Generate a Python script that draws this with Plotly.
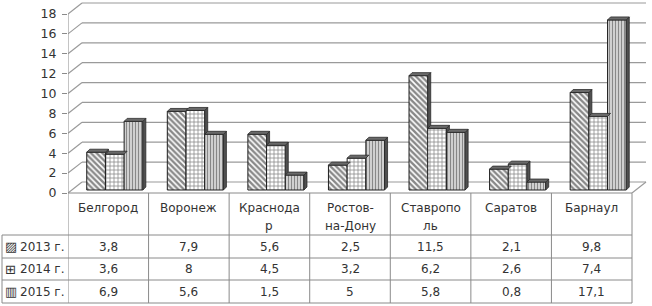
import plotly.graph_objects as go

# ---------------- data ----------------
categories = ["Белгород", "Воронеж", "Краснодар", "Ростов-на-Дону", "Ставрополь", "Саратов", "Барнаул"]
header_lines = [["Белгород"], ["Воронеж"], ["Краснода", "р"], ["Ростов-", "на-Дону"],
                ["Ставропо", "ль"], ["Саратов"], ["Барнаул"]]
series_names = ["2013 г.", "2014 г.", "2015 г."]
series_keys = ["▨", "⊞", "▥"]
values_2013 = [3.8, 7.9, 5.6, 2.5, 11.5, 2.1, 9.8]
values_2014 = [3.6, 8, 4.5, 3.2, 6.2, 2.6, 7.4]
values_2015 = [6.9, 5.6, 1.5, 5, 5.8, 0.8, 17.1]
y_ticks = [0, 2, 4, 6, 8, 10, 12, 14, 16, 18]

series_values = [values_2013, values_2014, values_2015]
patterns = [dict(shape="\\", size=4, solidity=0.6),
            dict(shape="+", size=4, solidity=0.35),
            dict(shape="|", size=3, solidity=0.6)]

# ---------------- geometry ----------------
W, H = 652, 306
ML, MR, MT, MB = 68, 0, 0, 113
PW, PH = W - ML - MR, H - MT - MB
n = len(categories)
xpx = (n * 1.0) / (632 - ML)          # data units per pixel (x)
ymax_tick = max(y_ticks)
ypx = ymax_tick / (193 - 14)          # data units per pixel (y)
x_range = [-0.5, -0.5 + PW * xpx]
y_range = [0, PH * ypx]

wall_dx, wall_dy = 14 * xpx, 11 * ypx   # depth of walls
bar_w = 18.7 * xpx
bar_shift = 6.5 * xpx
bar_dx, bar_dy = 3 * xpx, 3 * ypx
bar_lift = 3 * ypx

def px_x(p):   # pixel -> paper x
    return (p - ML) / PW

def px_y(p):   # pixel -> paper y
    return (MT + PH - p) / PH

TXT = "#333333"
GRID = "#9a9a9a"
TBL = "#8a8a8a"
FONT = "DejaVu Sans"

fig = go.Figure()

# ---------------- bars ----------------
for k, (name, vals, pat) in enumerate(zip(series_names, series_values, patterns)):
    off = bar_shift + (k - 1.5) * bar_w
    fig.add_trace(go.Bar(
        x=list(range(n)), y=vals, name=name, width=bar_w, offset=off,
        xaxis="x", yaxis="y2",
        marker=dict(color="white",
                    line=dict(color="#1e1e1e", width=1),
                    pattern=dict(fgcolor="#111111", bgcolor="#ffffff", **pat)),
        showlegend=False, hoverinfo="x+y"))

# 3D side and top faces, derived from the values
for k, vals in enumerate(series_values):
    off = bar_shift + (k - 1.5) * bar_w
    sx, sy, tx, ty = [], [], [], []
    for i, v in enumerate(vals):
        xl = i + off
        xr = xl + bar_w
        nxt = series_values[k + 1][i] if k < 2 else 0
        if nxt < v:
            sx += [xr, xr + bar_dx, xr + bar_dx, xr, xr, None]
            sy += [nxt, nxt + bar_dy, v + bar_dy, v, nxt, None]
        tx += [xl, xl + bar_dx, xr + bar_dx, xr, xl, None]
        ty += [v, v + bar_dy, v + bar_dy, v, v, None]
    fig.add_trace(go.Scatter(x=sx, y=sy, xaxis="x", yaxis="y2", mode="lines",
                             fill="toself", fillcolor="#505050",
                             line=dict(color="#2a2a2a", width=0.8),
                             showlegend=False, hoverinfo="skip"))
    fig.add_trace(go.Scatter(x=tx, y=ty, xaxis="x", yaxis="y2", mode="lines",
                             fill="toself", fillcolor="#6a6a6a",
                             line=dict(color="#2a2a2a", width=0.8),
                             showlegend=False, hoverinfo="skip"))

shapes = []
# back-wall gridlines with left-wall diagonals
for v in y_ticks:
    shapes.append(dict(type="line", xref="x", yref="y", x0=-0.5, y0=v,
                       x1=-0.5 + wall_dx, y1=v + wall_dy,
                       line=dict(color=GRID, width=1.2), layer="below"))
    shapes.append(dict(type="line", xref="x", yref="y", x0=-0.5 + wall_dx, y0=v + wall_dy,
                       x1=n - 0.5 + wall_dx, y1=v + wall_dy,
                       line=dict(color=GRID, width=1.2), layer="below"))
# floor right edge
shapes.append(dict(type="line", xref="x", yref="y", x0=n - 0.5, y0=0,
                   x1=n - 0.5 + wall_dx, y1=wall_dy,
                   line=dict(color=GRID, width=1.2), layer="below"))
# value axis line
shapes.append(dict(type="line", xref="x", yref="y", x0=-0.5, y0=0, x1=-0.5, y1=ymax_tick,
                   line=dict(color="#8a8a8a", width=1)))

# ---------------- data table ----------------
row_lines_px = [193, 235, 258, 280, 303]
shapes.append(dict(type="line", xref="x", yref="paper", x0=-0.5, x1=n - 0.5,
                   y0=px_y(193), y1=px_y(193), line=dict(color=TBL, width=1)))
for p in row_lines_px[1:]:
    shapes.append(dict(type="line", xref="paper", yref="paper", x0=px_x(2),
                       x1=px_x(632), y0=px_y(p), y1=px_y(p),
                       line=dict(color=TBL, width=1)))
for i in range(n + 1):
    shapes.append(dict(type="line", xref="x", yref="paper", x0=i - 0.5, x1=i - 0.5,
                       y0=px_y(193), y1=px_y(303), line=dict(color=TBL, width=1)))
shapes.append(dict(type="line", xref="paper", yref="paper", x0=px_x(2), x1=px_x(2),
                   y0=px_y(235), y1=px_y(303), line=dict(color=TBL, width=1)))

annotations = []
for i, lines in enumerate(header_lines):
    for j, t in enumerate(lines):
        annotations.append(dict(x=i, xref="x", y=px_y(208 + 18 * j), yref="paper",
                                text=t, showarrow=False, xanchor="center", yanchor="middle",
                                font=dict(family=FONT, size=12, color=TXT)))
row_centers = [(row_lines_px[r + 1] + row_lines_px[r + 2]) / 2 for r in range(3)]
for r, (name, key, vals) in enumerate(zip(series_names, series_keys, series_values)):
    yc = px_y(row_centers[r])
    annotations.append(dict(x=px_x(3), xref="paper", y=yc, yref="paper",
                            text=key, showarrow=False, xanchor="left", yanchor="middle",
                            font=dict(family=FONT, size=13, color="#333")))
    annotations.append(dict(x=px_x(66), xref="paper", y=yc, yref="paper",
                            text=name, showarrow=False, xanchor="right", yanchor="middle",
                            font=dict(family=FONT, size=12, color=TXT)))
    for i, v in enumerate(vals):
        annotations.append(dict(x=i, xref="x", y=yc, yref="paper",
                                text=f"{v:g}".replace(".", ","), showarrow=False,
                                xanchor="center", yanchor="middle",
                                font=dict(family=FONT, size=12, color=TXT)))

fig.update_layout(
    width=W, height=H,
    margin=dict(l=ML, r=MR, t=MT, b=MB, pad=0),
    paper_bgcolor="white", plot_bgcolor="white",
    barmode="overlay",
    xaxis=dict(type="linear", range=x_range, visible=False, fixedrange=True),
    yaxis=dict(range=y_range, tickvals=y_ticks, showgrid=False, zeroline=False,
               showline=False, ticks="outside", ticklen=5, tickcolor="#8a8a8a",
               ticklabelstandoff=3,
               tickfont=dict(family=FONT, size=12.5, color=TXT)),
    yaxis2=dict(range=[y_range[0] - bar_lift, y_range[1] - bar_lift],
                overlaying="y", visible=False),
    shapes=shapes, annotations=annotations,
    showlegend=False,
)

fig.write_html("out.html", config={"displayModeBar": False},
               post_script="document.body.style.margin='0';")
